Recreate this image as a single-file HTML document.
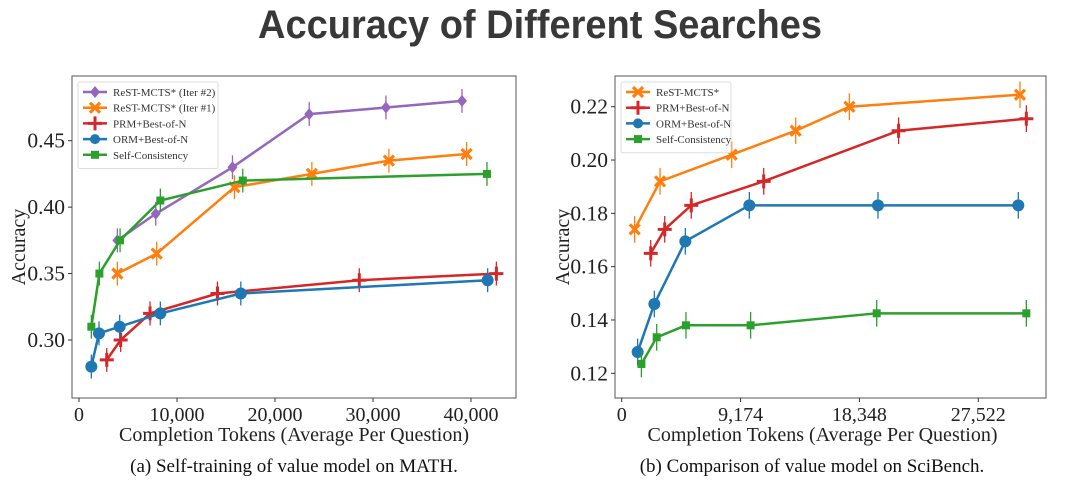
<!DOCTYPE html>
<html><head><meta charset="utf-8">
<style>
html,body{margin:0;padding:0;background:#fff;width:1080px;height:501px;overflow:hidden}
svg{display:block}
</style></head>
<body>
<svg id="fig" width="1080" height="501" xmlns="http://www.w3.org/2000/svg">
<text x="540" y="38" text-anchor="middle" font-family="Liberation Sans Narrow, Liberation Sans, sans-serif" font-weight="bold" font-size="40" fill="#383838" textLength="564" lengthAdjust="spacingAndGlyphs">Accuracy of Different Searches</text>
<text x="294" y="472" text-anchor="middle" font-family="Liberation Serif, serif" font-size="19" fill="#111">(a) Self-training of value model on MATH.</text>
<text x="812" y="472" text-anchor="middle" font-family="Liberation Serif, serif" font-size="19" fill="#111">(b) Comparison of value model on SciBench.</text>
<g id="chartA"></g>
<g id="chartB"></g>
</svg>
<script>
// ---- Chart A data (MATH) ----
const aNames = ["ReST-MCTS* (Iter #2)","ReST-MCTS* (Iter #1)","PRM+Best-of-N","ORM+Best-of-N","Self-Consistency"];
const aPurpleX = [3915,7830,15660,23490,31320,39080];
const aPurpleY = [0.375,0.395,0.43,0.47,0.475,0.48];
const aOrangeX = [3915,7930,15860,23760,31620,39550];
const aOrangeY = [0.35,0.365,0.415,0.425,0.435,0.44];
const aRedX = [2830,4250,7250,14130,28600,42590];
const aRedY = [0.285,0.30,0.32,0.335,0.345,0.35];
const aBlueX = [1260,2040,4150,8300,16510,41700];
const aBlueY = [0.28,0.305,0.31,0.32,0.335,0.345];
const aGreenX = [1260,2080,4190,8300,16710,41630];
const aGreenY = [0.31,0.35,0.375,0.405,0.42,0.425];
const aXTicks = [0,10000,20000,30000,40000];
const aXTickLabels = ["0","10,000","20,000","30,000","40,000"];
const aYTicks = [0.30,0.35,0.40,0.45];
const aYTickLabels = ["0.30","0.35","0.40","0.45"];
// ---- Chart B data (SciBench) ----
const bNames = ["ReST-MCTS*","PRM+Best-of-N","ORM+Best-of-N","Self-Consistency"];
const bOrangeX = [1000,2960,8490,13430,17570,30740];
const bOrangeY = [0.174,0.192,0.202,0.211,0.220,0.2245];
const bRedX = [2240,3320,5370,10960,21370,31230];
const bRedY = [0.165,0.174,0.183,0.192,0.211,0.2155];
const bBlueX = [1230,2520,4910,9850,19780,30610];
const bBlueY = [0.128,0.146,0.1695,0.183,0.183,0.183];
const bGreenX = [1520,2700,4960,9950,19680,31230];
const bGreenY = [0.1235,0.1335,0.138,0.138,0.1425,0.1425];
const bXTicks = [0,9174,18348,27522];
const bXTickLabels = ["0","9,174","18,348","27,522"];
const bYTicks = [0.12,0.14,0.16,0.18,0.20,0.22];
const bYTickLabels = ["0.12","0.14","0.16","0.18","0.20","0.22"];

const NS="http://www.w3.org/2000/svg";
const C={purple:"#9467bd",orange:"#ff7f0e",red:"#d62728",blue:"#1f77b4",green:"#2ca02c"};
function mk(tag,attrs,parent){const e=document.createElementNS(NS,tag);for(const k in attrs)e.setAttribute(k,attrs[k]);parent.appendChild(e);return e;}
function marker(g,type,x,y,col){
  let m;
  if(type==="diamond"){m=mk("polygon",{points:`${x},${y-6} ${x+5},${y} ${x},${y+6} ${x-5},${y}`,fill:col},g);}
  else if(type==="x"){m=mk("path",{d:`M${x-5},${y-5}L${x+5},${y+5}M${x-5},${y+5}L${x+5},${y-5}`,stroke:col,"stroke-width":3.2,fill:"none"},g);}
  else if(type==="plus"){m=mk("path",{d:`M${x-7},${y}L${x+7},${y}M${x},${y-7}L${x},${y+7}`,stroke:col,"stroke-width":3,fill:"none"},g);}
  else if(type==="circle"){m=mk("circle",{cx:x,cy:y,r:6,fill:col},g);}
  else {m=mk("rect",{x:x-4,y:y-4,width:8,height:8,fill:col},g);}
  return m;
}
function chart(root,cfg){
  const {L,R,T,B,x0,x1,px0,px1,y0,y1,py0,py1}=cfg;
  const sx=v=>px0+(v-x0)/(x1-x0)*(px1-px0);
  const sy=v=>py0+(v-y0)/(y1-y0)*(py1-py0);
  const box=mk("rect",{x:L,y:T,width:R-L,height:B-T,fill:"none",stroke:"#555","stroke-width":1},root);
  
  
  cfg.xt.forEach((t,i)=>{
    const x=sx(t);
    mk("line",{x1:x,x2:x,y1:B,y2:B+4,stroke:"#333"},root);
    const tx=mk("text",{x:x,y:B+23,"text-anchor":"middle","font-family":"Liberation Serif, serif","font-size":20,fill:"#222"},root);
    tx.textContent=cfg.xl[i];
    
    
  });
  cfg.yt.forEach((t,i)=>{
    const y=sy(t);
    mk("line",{x1:L-4,x2:L,y1:y,y2:y,stroke:"#333"},root);
    const tx=mk("text",{x:L-7,y:y+7,"text-anchor":"end","font-family":"Liberation Serif, serif","font-size":21.5,fill:"#222"},root);
    tx.textContent=cfg.yl[i];
    
    
  });
  const xt=mk("text",{x:(L+R)/2+(cfg.xtOff||0),y:B+43,"text-anchor":"middle","font-family":"Liberation Serif, serif","font-size":20,fill:"#222"},root);
  xt.textContent="Completion Tokens (Average Per Question)";
  
  
  const yx=cfg.ytx, yy=(T+B)/2+10;
  const yt=mk("text",{x:yx,y:yy,"text-anchor":"middle","font-family":"Liberation Serif, serif","font-size":20,fill:"#222",transform:`rotate(-90 ${yx} ${yy})`},root);
  yt.textContent="Accuracy";
  
  
  cfg.series.forEach(s=>{
    const g=mk("g",{},root);
    
    
    const pts=s.x.map((v,i)=>sx(v)+","+sy(s.y[i])).join(" ");
    mk("polyline",{points:pts,fill:"none",stroke:s.col,"stroke-width":2.5},g);
    s.x.forEach((v,i)=>{
      const x=sx(v),y=sy(s.y[i]),e=cfg.err;
      mk("line",{x1:x,x2:x,y1:sy(s.y[i]+e),y2:sy(s.y[i]-e),stroke:s.col,"stroke-width":1.3},g);
      const m=marker(g,s.m,x,y,s.col);
      
      
    });
  });
  const lg=mk("g",{},root);
  
  
  mk("rect",{x:cfg.lx,y:cfg.ly,width:cfg.lw,height:cfg.series.length*15.7+8,fill:"#fff",stroke:"#ddd",rx:2},lg);
  cfg.series.forEach((s,i)=>{
    const y=cfg.ly+10+i*15.7;
    const e=mk("g",{},lg);
    
    
    mk("line",{x1:cfg.lx+5,x2:cfg.lx+29,y1:y,y2:y,stroke:s.col,"stroke-width":2.5},e);
    const m=marker(e,s.m,cfg.lx+17,y,s.col);
    if(s.m==="circle")m.setAttribute("r",5);
    const t=mk("text",{x:cfg.lx+35,y:y+4,"font-family":"Liberation Serif, serif","font-size":11,fill:"#333"},e);
    t.textContent=s.name;
  });
}
chart(document.getElementById("chartA"),{L:72,R:516,T:76,B:398,x0:0,x1:40000,px0:79,px1:471,y0:0.30,y1:0.45,py0:340,py1:140.7,
  xt:aXTicks,xl:aXTickLabels,yt:aYTicks,yl:aYTickLabels,ytx:25,err:0.009,xtOff:0,
  lx:78,ly:82,lw:140,
  series:[
   {key:"rest-iter2",name:aNames[0],x:aPurpleX,y:aPurpleY,col:C.purple,m:"diamond"},
   {key:"rest-iter1",name:aNames[1],x:aOrangeX,y:aOrangeY,col:C.orange,m:"x"},
   {key:"prm",name:aNames[2],x:aRedX,y:aRedY,col:C.red,m:"plus"},
   {key:"orm",name:aNames[3],x:aBlueX,y:aBlueY,col:C.blue,m:"circle"},
   {key:"self-consistency",name:aNames[4],x:aGreenX,y:aGreenY,col:C.green,m:"square"}]});
chart(document.getElementById("chartB"),{L:615,R:1046,T:76,B:398,x0:0,x1:27522,px0:621.7,px1:978.3,y0:0.12,y1:0.22,py0:373.3,py1:106.7,
  xt:bXTicks,xl:bXTickLabels,yt:bYTicks,yl:bYTickLabels,ytx:569,err:0.005,xtOff:-8,
  lx:621,ly:82,lw:110,
  series:[
   {key:"rest",name:bNames[0],x:bOrangeX,y:bOrangeY,col:C.orange,m:"x"},
   {key:"prm",name:bNames[1],x:bRedX,y:bRedY,col:C.red,m:"plus"},
   {key:"orm",name:bNames[2],x:bBlueX,y:bBlueY,col:C.blue,m:"circle"},
   {key:"self-consistency",name:bNames[3],x:bGreenX,y:bGreenY,col:C.green,m:"square"}]});
</script>
</body></html>
